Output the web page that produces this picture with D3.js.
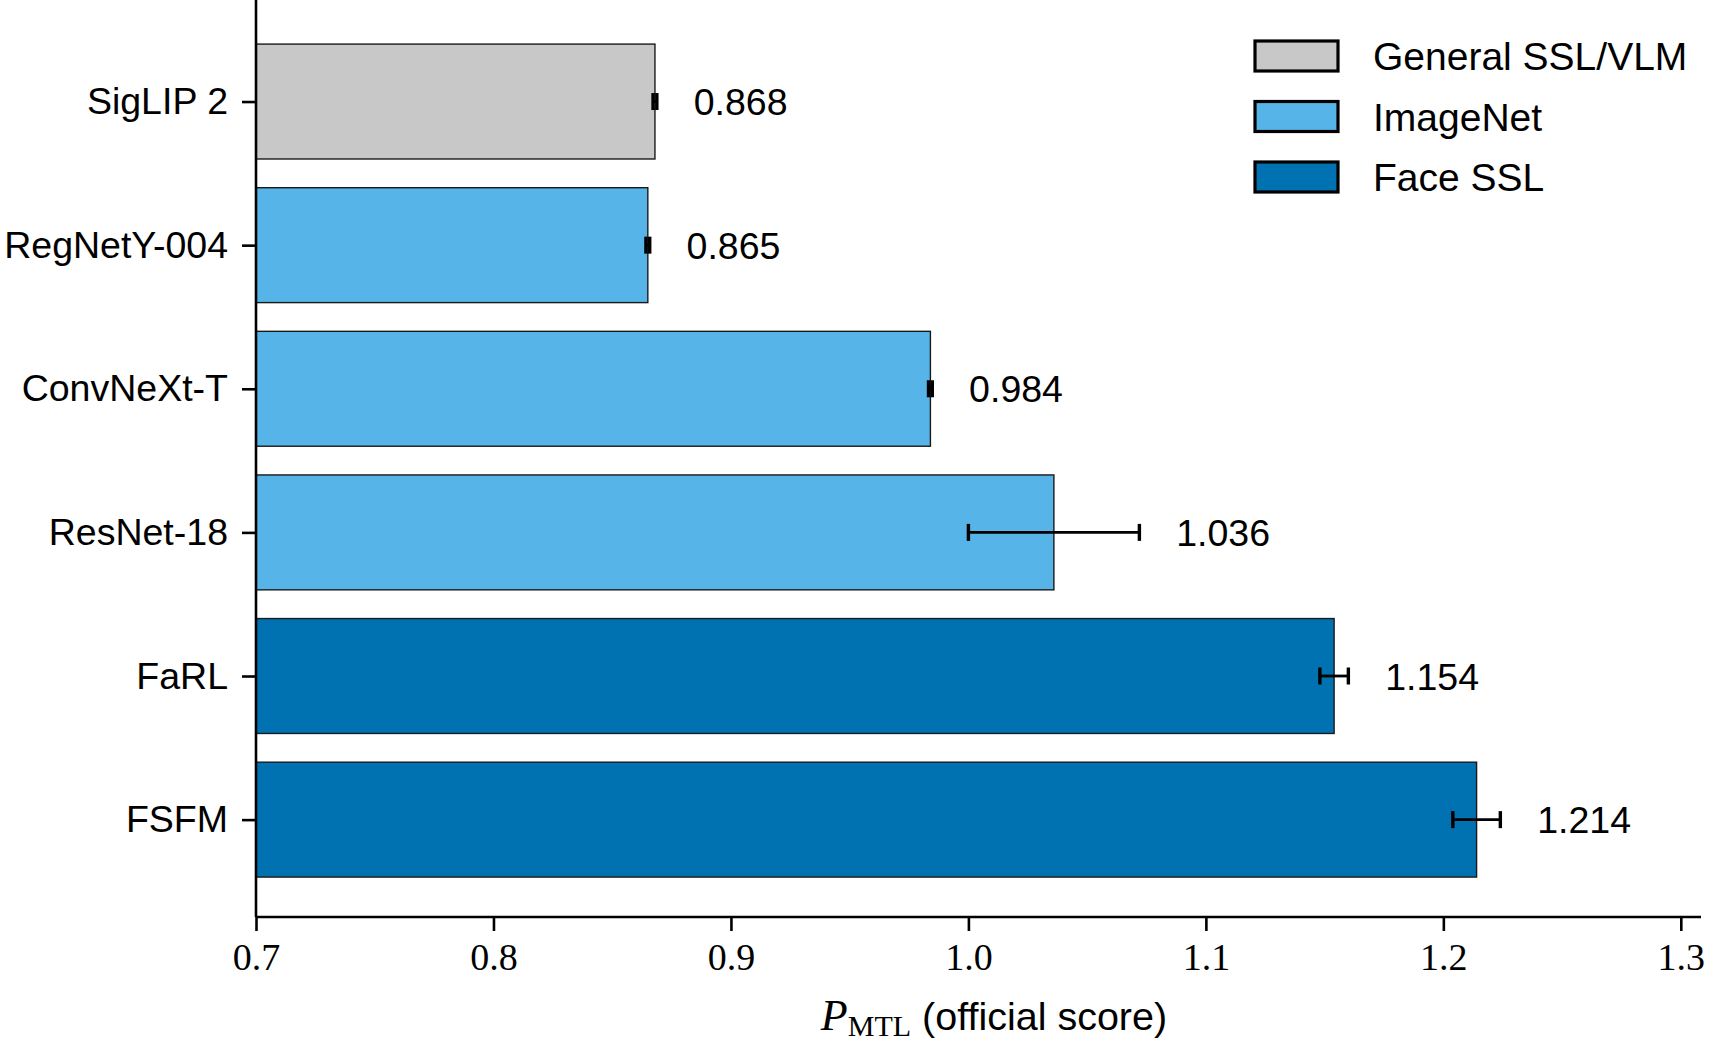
<!DOCTYPE html>
<html>
<head>
<meta charset="utf-8">
<script src="https://cdnjs.cloudflare.com/ajax/libs/d3/7.8.5/d3.min.js"></script>
<style>
  body { margin: 0; background: #fff; }
  svg { display: block; }
</style>
</head>
<body>
<div id="chart"></div>
<script>
// data
const models = ["SigLIP 2", "RegNetY-004", "ConvNeXt-T", "ResNet-18", "FaRL", "FSFM"];
const scores = [0.868, 0.865, 0.984, 1.036, 1.154, 1.214];
const errors = [0.0008, 0.0008, 0.0008, 0.036, 0.006, 0.010];
const groups = ["General SSL/VLM", "ImageNet", "ImageNet", "ImageNet", "Face SSL", "Face SSL"];
const legendNames = ["General SSL/VLM", "ImageNet", "Face SSL"];
const legendColors = ["#c8c8c8", "#56b4e9", "#0072b2"];
const xTicks = [0.7, 0.8, 0.9, 1.0, 1.1, 1.2, 1.3];

const W = 1732, H = 1043;
const plot = { left: 256, right: 1701, top: 0, bottom: 917 };

const sans = "'Liberation Sans', 'DejaVu Sans', sans-serif";
const serif = "'Liberation Serif', 'DejaVu Serif', serif";

const svg = d3.select("#chart").append("svg")
    .attr("width", W)
    .attr("height", H);

const x = d3.scaleLinear().domain([0.7, 1.3085]).range([plot.left, plot.right]);
// bar index -> vertical position, like matplotlib's barh with default margins
const y = d3.scaleLinear().domain([-0.707, 5.678]).range([plot.top, plot.bottom]);
const barH = 0.8;

const color = d3.scaleOrdinal().domain(legendNames).range(legendColors);

const data = models.map((m, i) => ({ model: m, score: scores[i], err: errors[i], group: groups[i], i: i }));

// bars
svg.append("g").selectAll("rect")
    .data(data)
    .enter().append("rect")
    .attr("x", x(0.7))
    .attr("y", d => y(d.i - barH / 2))
    .attr("width", d => x(d.score) - x(0.7))
    .attr("height", d => y(d.i + barH / 2) - y(d.i - barH / 2))
    .attr("fill", d => color(d.group))
    .attr("stroke", "#1a1a1a")
    .attr("stroke-width", 1.4);

// error bars
const eb = svg.append("g").attr("stroke", "#000").attr("stroke-width", 2.8);
data.forEach(d => {
    const cy = y(d.i);
    eb.append("line")
        .attr("x1", x(d.score - d.err)).attr("x2", x(d.score + d.err))
        .attr("y1", cy).attr("y2", cy);
    [d.score - d.err, d.score + d.err].forEach(v => {
        eb.append("line")
            .attr("x1", x(v)).attr("x2", x(v))
            .attr("y1", cy - 8.5).attr("y2", cy + 8.5)
            .attr("stroke-width", 3.4);
    });
});

// value labels
svg.append("g").selectAll("text")
    .data(data)
    .enter().append("text")
    .attr("x", d => x(d.score + d.err + 0.0155))
    .attr("y", d => y(d.i))
    .attr("dy", "0.36em")
    .attr("font-family", sans)
    .attr("font-size", 37.5)
    .attr("fill", "#000")
    .text(d => d.score.toFixed(3));

// x axis
const xAxis = svg.append("g")
    .attr("transform", `translate(0,${plot.bottom})`)
    .call(d3.axisBottom(x).tickValues(xTicks).tickFormat(d3.format(".1f")).tickSize(14).tickPadding(12));
xAxis.select(".domain").attr("stroke-width", 2.6).attr("d", `M${plot.left},0H${plot.right}`);
xAxis.selectAll(".tick line").attr("stroke-width", 2.6);
xAxis.selectAll(".tick text")
    .attr("font-family", serif)
    .attr("font-size", 38)
    .attr("fill", "#000");

// y axis
const yAxis = svg.append("g")
    .attr("transform", `translate(${plot.left},0)`)
    .call(d3.axisLeft(y).tickValues(d3.range(models.length)).tickFormat(i => models[i]).tickSize(14).tickPadding(14));
yAxis.select(".domain").attr("stroke-width", 2.6).attr("d", `M0,${plot.top}V${plot.bottom}`);
yAxis.selectAll(".tick line").attr("stroke-width", 2.6);
yAxis.selectAll(".tick text")
    .attr("font-family", sans)
    .attr("font-size", 37.5)
    .attr("fill", "#000");

// x axis label
const xl = svg.append("text")
    .attr("x", 994)
    .attr("y", 1030)
    .attr("text-anchor", "middle")
    .attr("fill", "#000");
xl.append("tspan").attr("font-family", serif).attr("font-style", "italic").attr("font-size", 44).text("P");
xl.append("tspan").attr("font-family", serif).attr("font-size", 30).attr("dy", 6).text("MTL");
xl.append("tspan").attr("font-family", sans).attr("font-size", 39.5).attr("dy", -6).text(" (official score)");

// legend
const lg = svg.append("g").attr("transform", "translate(1255,41)");
legendNames.forEach((name, k) => {
    const row = lg.append("g").attr("transform", `translate(0,${k * 60.5})`);
    row.append("rect")
        .attr("x", 0).attr("y", 0)
        .attr("width", 83).attr("height", 30)
        .attr("fill", legendColors[k])
        .attr("stroke", "#000")
        .attr("stroke-width", 3.2);
    row.append("text")
        .attr("x", 118)
        .attr("y", 15)
        .attr("dy", "0.36em")
        .attr("font-family", sans)
        .attr("font-size", 39)
        .attr("fill", "#000")
        .text(name);
});
</script>
</body>
</html>
